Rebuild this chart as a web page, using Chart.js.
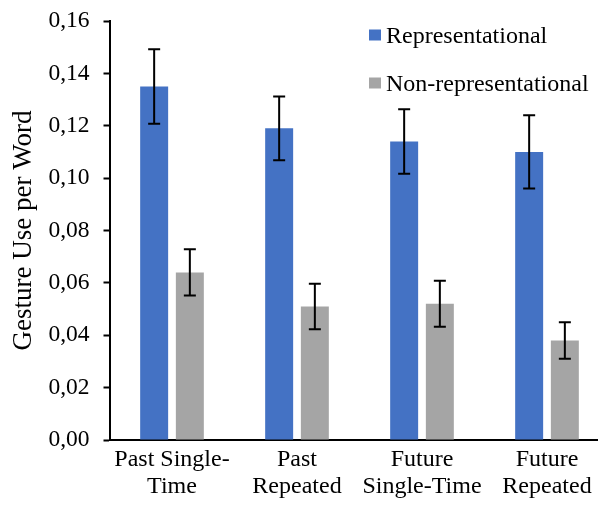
<!DOCTYPE html>
<html>
<head>
<meta charset="utf-8">
<script src="https://cdn.jsdelivr.net/npm/chart.js@4/dist/chart.umd.min.js"></script>
<style>
  html, body { margin: 0; padding: 0; background: #fff; overflow: hidden; }
  #wrap { position: relative; width: 612px; height: 509px; }
</style>
</head>
<body>
<div id="wrap"><canvas id="c"></canvas></div>
<script>
// Conditions (two-line labels)
const categories = [
  ['Past Single-', 'Time'],
  ['Past', 'Repeated'],
  ['Future', 'Single-Time'],
  ['Future', 'Repeated']
];
const seriesNames = ['Representational', 'Non-representational'];

// Mean gesture use per word
const representational = [0.135, 0.119, 0.114, 0.110];
const nonRepresentational = [0.064, 0.051, 0.052, 0.038];

// Error bar half-lengths
const representationalErr = [0.0142, 0.0122, 0.0123, 0.0140];
const nonRepresentationalErr = [0.0088, 0.0087, 0.0088, 0.0070];

// Y-axis ticks
const yTicks = [0, 0.02, 0.04, 0.06, 0.08, 0.10, 0.12, 0.14, 0.16];

const FONT = '"Liberation Serif", "Times New Roman", serif';
const BLUE = '#4472C4';
const GRAY = '#A5A5A5';

// Error bars drawn on top of each bar
const errorBars = {
  id: 'errorBars',
  afterDatasetsDraw(chart) {
    const ctx = chart.ctx;
    const y = chart.scales.y;
    ctx.save();
    ctx.strokeStyle = '#000';
    ctx.lineWidth = 2;
    chart.data.datasets.forEach((ds, di) => {
      const meta = chart.getDatasetMeta(di);
      meta.data.forEach((bar, i) => {
        const v = ds.data[i], e = ds.errors[i];
        const yTop = y.getPixelForValue(v + e);
        const yBot = y.getPixelForValue(v - e);
        const x = bar.x;
        ctx.beginPath();
        ctx.moveTo(x, yTop); ctx.lineTo(x, yBot);
        ctx.moveTo(x - 6, yTop); ctx.lineTo(x + 6, yTop);
        ctx.moveTo(x - 6, yBot); ctx.lineTo(x + 6, yBot);
        ctx.stroke();
      });
    });
    ctx.restore();
  }
};

// Legend placed inside the plot, upper right
const insideLegend = {
  id: 'insideLegend',
  afterDraw(chart) {
    const ctx = chart.ctx;
    ctx.save();
    ctx.font = '24px ' + FONT;
    ctx.textBaseline = 'alphabetic';
    ctx.textAlign = 'left';
    chart.data.datasets.forEach((ds, i) => {
      const rowTop = 29.5 + i * 48;
      ctx.fillStyle = ds.backgroundColor;
      ctx.fillRect(369, rowTop, 12, 11);
      ctx.fillStyle = '#000';
      ctx.fillText(ds.label, 386, rowTop + 13.5);
    });
    ctx.restore();
  }
};

new Chart(document.getElementById('c'), {
  type: 'bar',
  data: {
    labels: categories,
    datasets: [
      { label: seriesNames[0], data: representational, errors: representationalErr,
        backgroundColor: BLUE, categoryPercentage: 0.571, barPercentage: 0.784 },
      { label: seriesNames[1], data: nonRepresentational, errors: nonRepresentationalErr,
        backgroundColor: GRAY, categoryPercentage: 0.571, barPercentage: 0.784 }
    ]
  },
  options: {
    responsive: true,
    maintainAspectRatio: false,
    animation: false,
    layout: { padding: { top: 21, right: 2.5, bottom: 0, left: 0 } },
    plugins: {
      legend: { display: false },
      tooltip: { enabled: false }
    },
    scales: {
      x: {
        grid: { display: false, drawTicks: false },
        border: { color: '#000', width: 2 },
        afterFit(scale) { scale.height = 69; scale.paddingLeft = 0; scale.paddingRight = 0; },
        ticks: {
          color: '#000', padding: 6,
          maxRotation: 0, autoSkip: false,
          font: { family: FONT, size: 24, lineHeight: 1.12 }
        }
      },
      y: {
        min: 0, max: 0.16,
        afterBuildTicks(scale) { scale.ticks = yTicks.map(v => ({ value: v })); },
        afterFit(scale) { scale.width = 109.5; scale.paddingTop = 0; scale.paddingBottom = 0; },
        grid: { drawOnChartArea: false, drawTicks: true, tickLength: 6, tickColor: '#000', tickWidth: 2 },
        border: { color: '#000', width: 2 },
        ticks: {
          color: '#000', padding: 14,
          font: { family: FONT, size: 23.5 },
          callback: v => v.toFixed(2).replace('.', ',')
        },
        title: {
          display: true, text: 'Gesture Use per Word', color: '#000',
          font: { family: FONT, size: 27 },
          padding: { top: 8, bottom: 9 }
        }
      }
    }
  },
  plugins: [errorBars, insideLegend]
});
</script>
</body>
</html>
